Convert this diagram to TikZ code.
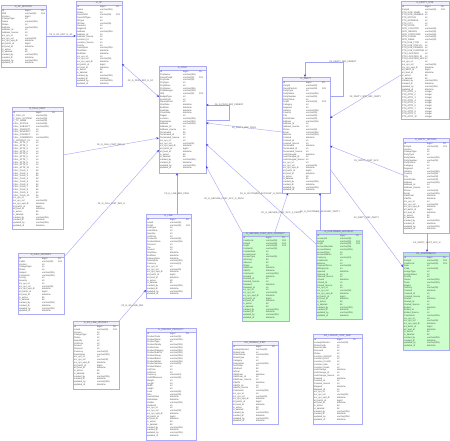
\documentclass[tikz,border=0pt]{standalone}
\usepackage{fontspec}
\setmainfont{Liberation Sans}
\usetikzlibrary{arrows.meta,calc}
\definecolor{bordc}{RGB}{172,172,246}
\definecolor{conc}{RGB}{165,165,245}
\definecolor{tipc}{RGB}{60,60,225}
\definecolor{wfill}{RGB}{255,255,255}
\definecolor{wbar}{RGB}{240,240,255}
\definecolor{gfill}{RGB}{204,255,204}
\definecolor{gbar}{RGB}{180,238,192}
\definecolor{txtc}{RGB}{70,70,70}
\tikzset{
 tblbox/.style={draw=bordc, line width=0.8pt, inner sep=0pt, outer sep=0pt},
 ttl/.style={font=\fontsize{2.3}{2.6}\selectfont, text=txtc, inner sep=0pt},
 rowtxt/.style={font=\fontsize{2.2}{2.75}\selectfont, text=txtc, inner sep=0pt},
 con/.style={draw=conc, line width=0.4pt},
 arrE/.style={-{Stealth[length=2.6pt,width=2.2pt,color=tipc]}},
 arrS/.style={{Stealth[length=2.6pt,width=2.2pt,color=tipc]}-},
 arrB/.style={{Stealth[length=2.6pt,width=2.2pt,color=tipc]}-{Stealth[length=2.6pt,width=2.2pt,color=tipc]}},
 lbl/.style={font=\fontsize{2.2}{2.4}\selectfont, text=txtc, inner sep=0.3pt}
}
\catcode`\_=12
\newcommand\ertab[8]{%
 \fill[#6fill] (#2,#3) rectangle ++(#4,#5);
 \fill[#6bar] (#2,#3) rectangle ++(#4,4);
 \draw[bordc, line width=0.4pt] (#2,#3+4) -- ++(#4,0);
 \node[tblbox, minimum width=#4pt, minimum height=#5pt, anchor=north west] (#1) at (#2,#3) {};
 \node[ttl] (#1t) at ($(#1.north)+(0,-2pt)$) {#7};
 \node[rowtxt, anchor=north west] (#1r) at ($(#1.north west)+(1pt,-4.6pt)$) {\begin{tabular}{@{}p{23pt}@{}p{16pt}@{}l@{}}#8\end{tabular}};
}
\newcommand\audit{%
src_sys_id & int & \\
src_sys_ref & varchar(50) & \\
src_sys_upd_dt & datetime & \\
etl_batch_id & bigint & \\
etl_load_dt & datetime & \\
is_active & bit & \\
is_deleted & bit & \\
created_by & varchar(255) & \\
created_dt & datetime & \\
updated_by & varchar(255) & \\
updated_dt & datetime & \\}
\newcommand\tenattr[2]{#1_1 & #2 & \\ #1_2 & #2 & \\ #1_3 & #2 & \\ #1_4 & #2 & \\ #1_5 & #2 & \\ #1_6 & #2 & \\ #1_7 & #2 & \\ #1_8 & #2 & \\ #1_9 & #2 & \\ #1_10 & #2 & \\}
\begin{document}
\begin{tikzpicture}[x=1pt,y=-1pt]
\fill[white] (0,0) rectangle (450,441);
\useasboundingbox (0,0) rectangle (450,441);

% ---------------- tables ----------------
\ertab{A}{1}{5}{45}{62}{w}{G_SF_HISTORY}{%
Id & bigint & PK\\
SfId & varchar(50) & FK1\\
Version & bigint & \\
ChangeType & int & \\
Name & varchar(255) & \\
Status & int & \\
Address & varchar(255) & \\
Address_Id & int & \\
Address_Source & int & \\
\audit}

\ertab{B}{76}{1}{46}{85}{w}{G_SF}{%
Id & bigint & PK\\
Name & varchar(255) & \\
Status & int & \\
ParentSfId & varchar(50) & FK1\\
ParentSfType & int & \\
SfType & int & \\
SfCode & varchar(50) & \\
OwnerId & int & \\
RegionId & int & \\
Address & varchar(255) & \\
Address_Id & int & \\
Address_Source & int & \\
Location_Id & int & \\
Location_Source & int & \\
Priority & int & \\
Description & varchar(255) & \\
StartDate & datetime & \\
EndDate & datetime & \\
\audit}

\ertab{C}{12}{107}{51}{122}{w}{G_CALL_PART}{%
Id & bigint & PK\\
C_CALL_ID & varchar(50) & \\
C_CALL_SYSTEM & varchar(50) & \\
C_TP_NAME & varchar(50) & \\
CALL_STATUS & varchar(50) & \\
CALL_SUBJECT & varchar(255) & \\
CALL_PRIORITY & int & \\
CALL_SEVERITY & int & \\
CALL_CONTACT & int & \\
CALL_COMMENTS & varchar(255) & \\
C_CONTACT_ID & int & \\
\tenattr{CALL_ATTR}{int}
\tenattr{CALL_FLAG}{bit}
\audit}

\ertab{H}{18}{253}{46}{61}{w}{G_CALL_HISTORY}{%
Id & bigint & PK\\
CallId & varchar(50) & FK1\\
Version & int & \\
ChangeType & int & \\
Status & int & \\
Subject & varchar(255) & \\
Comments & varchar(255) & \\
Priority & int & \\
Severity & int & \\
\audit}

\ertab{D}{159}{66}{47}{107}{w}{G_PROJ}{%
Id & bigint & PK\\
ProjName & varchar(255) & \\
ParentProjId & varchar(50) & FK1\\
ProjCode & varchar(50) & \\
ProjType & int & \\
ProjStatus & int & \\
ProjOwner & varchar(255) & \\
ProjManager & varchar(255) & \\
SfId & varchar(50) & FK2\\
BudgetType & int & \\
ActualCost & int & \\
PlannedCost & int & \\
StartDate & datetime & \\
EndDate & datetime & \\
DueDate & datetime & \\
CloseDate & datetime & \\
Region & int & \\
Location & varchar(255) & \\
Description & varchar(255) & \\
Address & varchar(255) & \\
Address_Id & int & \\
Address_Source & int & \\
Terminated & bit & \\
Terminated_Id & int & \\
Terminated_Source & int & \\
\audit}

\ertab{I}{146}{214}{45}{84}{w}{G_LINE}{%
Id & bigint & PK\\
LineId & varchar(50) & \\
ProjId & varchar(50) & FK1\\
LineType & int & \\
LineStatus & int & \\
Quantity & int & \\
UnitPrice & int & \\
ProductId & varchar(50) & \\
ProductName & varchar(255) & \\
Discount & int & \\
Tax & int & \\
Amount & int & \\
StartDate & datetime & \\
EndDate & datetime & \\
DeliveryDate & datetime & \\
Description & varchar(255) & \\
Currency & varchar(10) & \\
\audit}

\ertab{K}{73}{321}{46}{68}{w}{G_SO_LINE_HISTORY}{%
Id & bigint & PK\\
LineId & varchar(50) & FK1\\
Version & int & \\
ChangeType & int & \\
Status & int & \\
Quantity & int & \\
UnitPrice & int & \\
Amount & int & \\
Discount & int & \\
Currency & varchar(10) & \\
Description & varchar(255) & \\
\audit}

\ertab{J}{146}{328}{50}{112}{w}{G_SOURCE_PRODUCT}{%
Id & bigint & PK\\
ProductCode & varchar(50) & \\
ProductName & varchar(255) & \\
ProductType & int & \\
ProductFamily & varchar(255) & \\
ProductLine & varchar(255) & \\
ProductCategory & varchar(255) & \\
ProductSubCat & varchar(255) & \\
ProductGroup & varchar(255) & \\
ProductBrand & varchar(255) & \\
ProductModel & varchar(255) & \\
ProductVersion & varchar(50) & \\
ProductStatus & int & \\
ListPrice & int & \\
UnitCost & int & \\
Currency & varchar(10) & \\
UnitOfMeasure & varchar(50) & \\
Weight & int & \\
Length & int & \\
Width & int & \\
Height & int & \\
Color & varchar(50) & \\
Size & varchar(50) & \\
LaunchDate & datetime & \\
RetireDate & datetime & \\
Vendor & varchar(255) & \\
VendorId & int & \\
\audit}

\ertab{E}{282}{77}{48}{116}{w}{G_PARTY}{%
Id & bigint & PK\\
PartyId & varchar(50) & \\
ParentPartyId & varchar(50) & FK1\\
PartyType & int & \\
PartyName & varchar(255) & \\
PartyNumber & varchar(50) & \\
PartyStatus & int & \\
ProjId & varchar(50) & FK2\\
Category & int & \\
Segment & int & \\
Industry & varchar(255) & \\
Country & varchar(50) & \\
City & varchar(50) & \\
PostalCode & varchar(20) & \\
Address & varchar(255) & \\
Address_Id & int & \\
Address_Source & int & \\
Phone & varchar(50) & \\
Email & varchar(255) & \\
Website & varchar(255) & \\
Created & datetime & \\
Created_Id & int & \\
Created_Source & int & \\
Terminated & datetime & \\
Terminated_Id & int & \\
Terminated_Source & int & \\
LastChanged & datetime & \\
LastChanged_Id & int & \\
LastChanged_Source & int & \\
\audit}

\ertab{F}{401}{1}{48}{118}{w}{G_PARTY_SITE}{%
Id & bigint & PK\\
PartyId & varchar(50) & FK1\\
PTS_SITE_NAME & int & \\
PTS_SITE_NUMBER & int & \\
PTS_STATUS & int & \\
PTS_ADDRESS & int & \\
PTS_CITY & int & \\
PTS_STATE & int & \\
SITE_COUNTRY & varchar(50) & \\
SITE_REGION & varchar(50) & \\
SITE_POSTCODE & varchar(50) & \\
SITE_PHONE & varchar(50) & \\
SITE_EMAIL & varchar(50) & \\
PTS_USE_TYPE & int & \\
PTS_USE_STATUS & int & \\
PTS_USE_PRIMARY & int & \\
PTS_USE_PURPOSE & int & \\
PTS_LOCATION & int & \\
PTS_LOCATION_ID & int & \\
PTS_LOCATION_SRC & int & \\
\audit
\tenattr{PTS_ATTR}{integer}}

\ertab{G}{403}{138}{46}{95}{w}{G_PARTY_HISTORY}{%
Id & bigint & PK\\
PartyId & varchar(50) & FK1\\
Version & int & \\
ChangeType & int & \\
PartyType & int & \\
PartyName & varchar(255) & \\
PartyNumber & varchar(50) & \\
PartyStatus & int & \\
Category & int & \\
Segment & int & \\
Industry & varchar(255) & \\
Country & varchar(50) & \\
City & varchar(50) & \\
PostalCode & varchar(20) & \\
Address & varchar(255) & \\
Address_Id & int & \\
Address_Source & int & \\
Phone & varchar(50) & \\
Email & varchar(255) & \\
ValidFrom & datetime & \\
ValidTo & datetime & \\
\audit}

\ertab{L}{242}{232}{47}{89}{g}{G_SECURE_CUST_ACC_CONTACT}{%
Id & bigint & PK\\
CustAccId & varchar(50) & FK1\\
PartyId & varchar(50) & FK2\\
ProjId & varchar(50) & FK3\\
ContactId & varchar(50) & \\
ContactRole & int & \\
AccessLevel & int & \\
AccessType & varchar(50) & \\
IsPrimary & bit & \\
IsSecure & bit & \\
Status & int & \\
ValidFrom & datetime & \\
ValidTo & datetime & \\
Comments & varchar(255) & \\
Granted & datetime & \\
Granted_Id & int & \\
Granted_Source & int & \\
Revoked & datetime & \\
Revoked_Id & int & \\
\audit}

\ertab{M}{316}{230}{46}{89}{g}{G_CUSTOMER_ACCOUNT}{%
Id & bigint & PK\\
AccountId & varchar(50) & \\
PartyId & varchar(50) & FK1\\
ProjId & varchar(50) & FK2\\
AccountNumber & varchar(50) & \\
AccountName & varchar(255) & \\
AccountType & int & \\
AccountStatus & int & \\
Currency & varchar(10) & \\
CreditLimit & int & \\
Balance & int & \\
PaymentTerms & varchar(50) & \\
BillingCycle & int & \\
Opened & datetime & \\
Opened_Id & int & \\
Opened_Source & int & \\
Closed & datetime & \\
Closed_Id & int & \\
Closed_Source & int & \\
\audit}

\ertab{N}{403}{252}{46}{98}{g}{CG_ASSIGNMENT}{%
Id & bigint & PK\\
PartyId & varchar(50) & FK1\\
CustAccId & varchar(50) & FK2\\
Role & int & \\
Code & varchar(50) & \\
AssignType & int & \\
AssignStatus & int & \\
Priority & int & \\
Owner & varchar(255) & \\
Team & varchar(255) & \\
Region & int & \\
Territory & varchar(50) & \\
Created & datetime & \\
Created_Id & int & \\
Created_Source & int & \\
Started & datetime & \\
Started_Id & int & \\
Started_Source & int & \\
Ended & datetime & \\
Ended_Id & int & \\
Ended_Source & int & \\
Comments & varchar(255) & \\
\audit}

\ertab{O}{232}{341}{46}{83}{w}{GS_LOOKUP_STAT}{%
Id & bigint & PK\\
LookupStatusId & varchar(50) & \\
StatusCode & int & \\
StatusName & varchar(255) & \\
StatusType & int & \\
Category & int & \\
Description & varchar(255) & \\
SortOrder & int & \\
IsDefault & bit & \\
IsFinal & bit & \\
ValidFrom & datetime & \\
ValidFrom_Id & int & \\
ValidFrom_Source & int & \\
ValidTo & datetime & \\
ValidTo_Id & int & \\
ValidTo_Source & int & \\
Comments & varchar(255) & \\
\audit}

\ertab{P}{313}{334}{49}{90}{w}{GS_LOOKUP_STAT_MAP}{%
Id & bigint & PK\\
LookupStatusId & varchar(50) & \\
StatusCode & int & \\
SourceCode & int & \\
SourceId & int & \\
Status & int & \\
Location_GROUP & int & \\
Location_UNIT & int & \\
Location_CLASS & int & \\
Location_Sub & int & \\
Location_Detail & int & \\
LastChange & datetime & \\
LastChange_Id & int & \\
LastChange_Source & int & \\
Created & datetime & \\
Created_Id & int & \\
Created_Source & int & \\
Mapped & datetime & \\
Mapped_Id & int & \\
\audit}

% ---------------- connectors ----------------
\draw[con,arrE] ([yshift=-31pt]A.north east) -- node[lbl,above]{FK_G_SF_HIST_G_SF} ([yshift=-35pt]B.north west);
\draw[con,arrB] ([yshift=-63pt]B.north east) -- node[lbl]{FK_G_PROJ_REF_G_SF} ([yshift=-31pt]D.north west);
\draw[con,arrE] ([yshift=-48pt]C.north east) -- node[lbl,above]{FK_G_CALL_PART_REF_G} ([yshift=-72pt]D.north west);
\draw[con,arrE] ([yshift=-4pt]H.north east) -- node[lbl]{FK_G_CALL_HIST_REF_G} ([yshift=-84pt]D.north west);
\draw[con,arrE] ([yshift=-54pt]D.north east) -- ++(23,0) -- ++(0,-15) node[lbl]{FK_G_PROJ_REF_PARENT} -- ([yshift=-39pt]D.north east);
\draw[con,arrS] ([yshift=-57pt]D.north east) -- node[lbl]{FK_PARTY_REF_PROJ} ([yshift=-55pt]E.north west);
\draw[con,arrE] ([xshift=31pt]I.north west) -- node[lbl]{FK_G_LINE_REF_PROJ} ([xshift=18pt]D.south west);
\draw[con,arrE] (K.north east) -- node[lbl]{FK_G_SO_LINE_REF} ([yshift=-76pt]I.north west);
\draw[con,arrS] ([yshift=-100pt]D.north east) -- node[lbl]{FK_G_SECURE_CUST_ACC_G_PROJ} (L.north west);
\draw[con,arrS] ([yshift=-78pt]D.north east) -- node[lbl]{FK_G_CUSTOMER_ACCOUNT_G_PROJ} ([yshift=-14pt]M.north west);
\draw[con,arrE] ([xshift=33pt]L.north west) -- node[lbl]{FK_G_SECURE_CUST_ACC_P_PARTY} ([xshift=6pt]E.south west);
\draw[con,arrE] ([xshift=4pt]M.north west) -- node[lbl]{FK_G_CUSTOMER_ACCOUNT_PARTY} ([xshift=38pt]E.south west);
\draw[con,arrE] ([yshift=-19pt]E.north east) -- ++(13,0) -- ++(0,-34) node[lbl]{FK_PARTY_REF_PARENT} -- ++(-38,0) -- ([xshift=23pt]E.north west);
\draw[con,arrE] ([yshift=-74pt]F.north west) -- node[lbl]{FK_PARTY_SITE_REF_PARTY} ([yshift=-41pt]E.north east);
\draw[con,arrE] ([yshift=-37pt]G.north west) -- node[lbl]{FK_PARTY_CUST_ACC} ([yshift=-69pt]E.north east);
\draw[con,arrE] ([yshift=-92pt]E.north east) -- node[lbl]{FK_PARTY_REF_PARTY} ([yshift=-15pt]N.north west);
\draw[con,arrE] ([xshift=24pt]G.south west) -- node[lbl]{FK_PARTY_CUST_ACC_N} ([xshift=24pt]N.north west);
\end{tikzpicture}
\end{document}
